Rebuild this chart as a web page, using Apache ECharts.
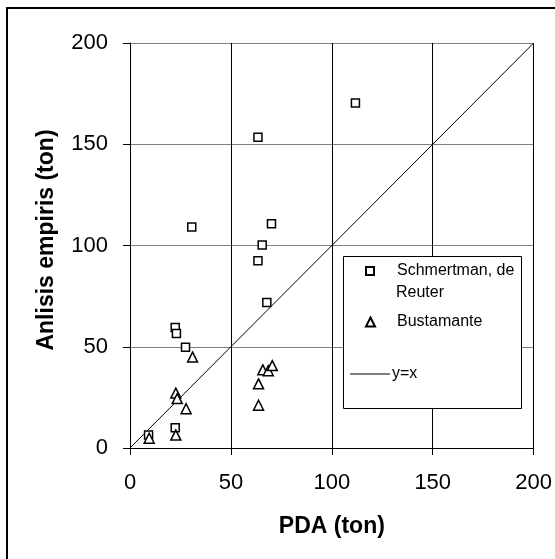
<!DOCTYPE html>
<html>
<head>
<meta charset="utf-8">
<script src="https://cdn.jsdelivr.net/npm/echarts@6/dist/echarts.min.js"></script>
<style>
  html, body { margin: 0; padding: 0; background: #fff; }
  #chart { width: 555px; height: 559px; }
</style>
</head>
<body>
<div id="chart"></div>
<script>
// data (PDA, empiris)
const schmertmanX = [111.7, 63.4, 30.6, 70.1, 65.5, 63.4, 67.8, 22.4, 23.0, 27.5, 22.4, 9.2]
const schmertmanY = [170.4, 153.5, 109.1, 110.8, 100.2, 92.5, 71.9, 59.5, 56.5, 49.8, 10.0, 6.4]
const bustamanteX = [31.0, 65.8, 68.5, 70.5, 63.7, 63.7, 22.7, 23.4, 27.8, 22.7, 9.5]
const bustamanteY = [44.9, 38.6, 38.2, 40.7, 31.7, 21.1, 27.1, 24.4, 19.4, 6.4, 4.8]
const lineX = [0, 200]
const lineY = [0, 200]
const tickValues = [0, 50, 100, 150, 200]

const FONT = "'Liberation Sans', Arial, sans-serif"

function pairs(xs, ys) {
  return xs.map((x, i) => [x, ys[i]])
}

const chart = echarts.init(document.getElementById('chart'), null, { renderer: 'canvas' })

const axisCommon = {
  type: 'value',
  min: tickValues[0],
  max: tickValues[tickValues.length - 1],
  interval: tickValues[1] - tickValues[0],
  axisLine: { show: true, lineStyle: { color: '#000', width: 1 } },
  axisTick: { show: true, inside: false, length: 7, lineStyle: { color: '#000' } },
  nameLocation: 'middle',
  nameTextStyle: { fontFamily: FONT, fontSize: 23, fontWeight: 'bold', color: '#000' }
}

const option = {
  animation: false,
  backgroundColor: '#fff',
  grid: { left: 130, top: 43, width: 405, height: 405 },
  xAxis: Object.assign({}, axisCommon, {
    name: 'PDA (ton)',
    nameGap: 67,
    axisLabel: { fontFamily: FONT, fontSize: 22, color: '#000', margin: 24 },
    splitLine: { show: true, lineStyle: { color: '#000', width: 1 } }
  }),
  yAxis: Object.assign({}, axisCommon, {
    name: 'Anlisis empiris (ton)',
    nameGap: 72,
    nameTextStyle: { fontFamily: FONT, fontSize: 23, fontWeight: 'bold', color: '#000', padding: [0, 0, 0, 11] },
    axisLabel: { fontFamily: FONT, fontSize: 22, color: '#000', margin: 22 },
    splitLine: { show: true, lineStyle: { color: '#808080', width: 1 } }
  }),
  legend: [
    {
      data: ['Schmertman, de Reuter'],
      formatter: () => 'Schmertman, de',
      left: 365, top: 262, padding: 0,
      itemWidth: 8, itemHeight: 8,
      textStyle: { fontFamily: FONT, fontSize: 16, color: '#000', lineHeight: 18, padding: [0, 0, 0, 18] },
      z: 20
    },
    {
      data: ['Bustamante'],
      left: 365, top: 313, padding: 0,
      itemWidth: 9, itemHeight: 9,
      textStyle: { fontFamily: FONT, fontSize: 16, color: '#000', lineHeight: 18, padding: [0, 0, 0, 17] },
      z: 20
    },
    {
      data: [{ name: 'y=x', icon: 'rect' }],
      left: 350, top: 365, padding: 0,
      itemWidth: 40, itemHeight: 1,
      textStyle: { fontFamily: FONT, fontSize: 16, color: '#000', lineHeight: 18, padding: [0, 0, 0, -3] },
      z: 20
    }
  ],
  graphic: [
    // frame around the whole figure (only left/top visible in the crop)
    { type: 'rect', shape: { x: 7, y: 8, width: 700, height: 700 }, style: { fill: null, stroke: '#000', lineWidth: 2 }, z: 1, silent: true },
    // legend box
    { type: 'rect', shape: { x: 343.5, y: 256.5, width: 178, height: 152 }, style: { fill: '#fff', stroke: '#000', lineWidth: 1 }, z: 10, silent: true },
    { type: 'text', x: 396, y: 293, style: { text: 'Reuter', font: '16px ' + FONT, fill: '#000', verticalAlign: 'middle' }, z: 20, silent: true }
  ],
  series: [
    {
      name: 'Schmertman, de Reuter',
      type: 'scatter',
      symbol: 'rect',
      symbolSize: 8,
      itemStyle: { color: '#fff', borderColor: '#000', borderWidth: 1.5, opacity: 1 },
      data: pairs(schmertmanX, schmertmanY),
      z: 5
    },
    {
      name: 'Bustamante',
      type: 'scatter',
      symbol: 'triangle',
      symbolSize: 10,
      itemStyle: { color: '#fff', borderColor: '#000', borderWidth: 1.5, opacity: 1 },
      data: pairs(bustamanteX, bustamanteY),
      z: 5
    },
    {
      name: 'y=x',
      type: 'line',
      symbol: 'none',
      showSymbol: false,
      lineStyle: { color: '#000', width: 1 },
      itemStyle: { color: '#000' },
      data: pairs(lineX, lineY),
      z: 4
    }
  ]
}

chart.setOption(option)
</script>
</body>
</html>
